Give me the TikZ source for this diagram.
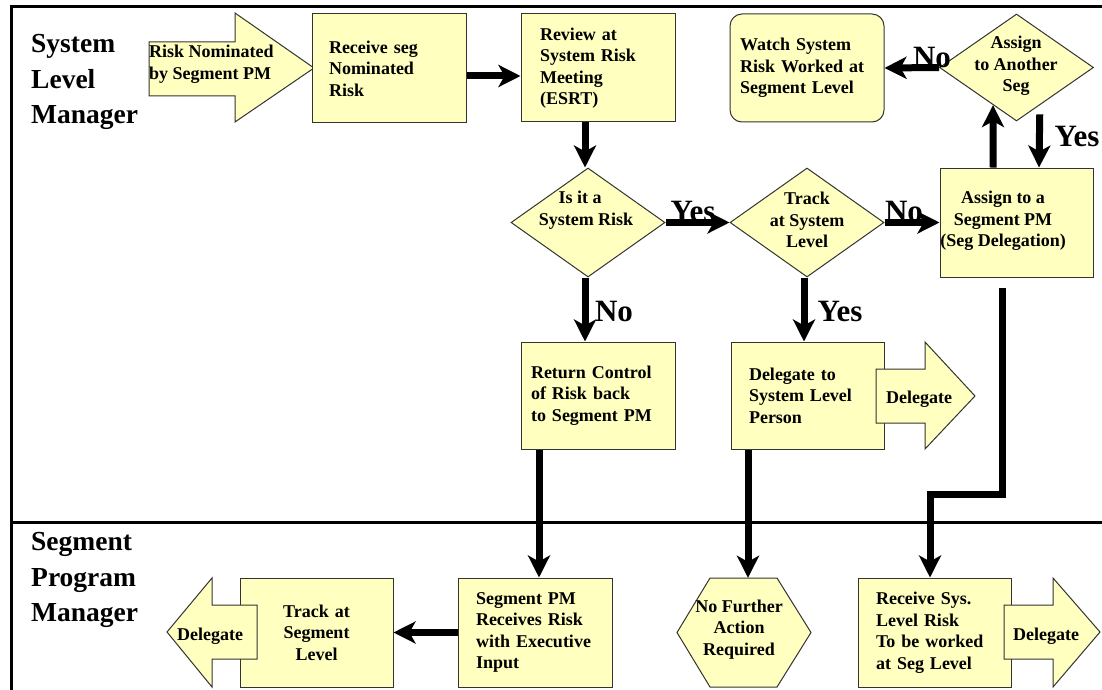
\documentclass[tikz,border=0pt]{standalone}
\usepackage{fontspec}
\setmainfont{Liberation Serif}
\usetikzlibrary{shapes.geometric,arrows.meta,calc}
\definecolor{yel}{HTML}{FFFFC0}
\definecolor{edge}{HTML}{333333}
\newcommand\boxfont{\fontsize{18}{21.5}\selectfont\bfseries}
\newcommand\lblfont{\fontsize{31}{32}\selectfont\bfseries}
\newcommand\lanefont{\fontsize{27.5}{35.5}\selectfont\bfseries}
\tikzset{
  box/.style={draw=edge, line width=1pt, fill=yel, font=\boxfont, align=left, inner ysep=0pt, minimum height=109pt},
  dia/.style={diamond, draw=edge, line width=1pt, fill=yel, inner sep=0pt, minimum width=154pt, minimum height=109pt},
  blockarrow/.style={draw=edge, line width=1pt, fill=yel, line join=miter},
  txt/.style={font=\boxfont, align=center, inner sep=0pt},
  lbl/.style={font=\lblfont, inner sep=0pt},
  lane/.style={font=\lanefont, align=left, inner sep=0pt, anchor=west},
  conn/.style={line width=7pt, -{Stealth[length=22pt, width=22pt, inset=6pt]}},
  frame/.style={line width=3pt}
}
\begin{document}
\begin{tikzpicture}[x=1pt,y=-1pt]
\useasboundingbox (0,0) rectangle (1102,690);
\fill[white] (0,0) rectangle (1102,690);
% frame and lane divider
\draw[frame] (1102,7) -- (11,7) -- (11,690);
\draw[frame] (11,522) -- (1102,522);
% lane titles
\node[lane] (lane1) at (31,82) {System\\Level\\Manager};
\node[lane] (lane2) at (31,580) {Segment\\Program\\Manager};

% top row
\draw[blockarrow] (149,42) -- (235,42) -- (235,13) -- (314,68) -- (235,122) -- (235,96) -- (149,96) -- cycle;
\node[txt, align=left, anchor=west] (nom) at (149,64) {Risk Nominated\\by Segment PM};
\node[box, text width=120pt, inner xsep=17pt] (b2) at (389,68.5) {Receive seg\\Nominated\\Risk};
\node[box, text width=116pt, inner xsep=19pt, minimum height=108pt] (b3) at (598,68) {Review at\\System Risk\\Meeting\\(ESRT)};
\node[box, text width=134pt, inner xsep=10pt, minimum height=108pt, rounded corners=12pt] (watch) at (807,68) {Watch System\\Risk Worked at\\Segment Level};
\node[dia, minimum height=107pt] (ad) at (1016.5,67.5) {};
\node[txt] (adt) at (1016,66) {Assign\\to Another\\Seg};

% middle row
\node[dia] (d1) at (588,222.5) {};
\node[txt] (d1t) at (586,210) {\hspace*{-12pt}Is it a\\System Risk};
\node[dia] (d2) at (807,222.5) {};
\node[txt] (d2t) at (807,220) {Track\\at System\\Level};
\node[box, minimum width=153pt] (ab) at (1016.5,222.5) {};
\node[txt] (abt) at (1003,221) {Assign to a\\Segment PM\\(Seg Delegation)};

\node[box, text width=134pt, inner xsep=10pt, minimum height=107pt] (rb) at (598,395.5) {Return Control\\of Risk back\\to Segment PM};
\node[box, text width=117pt, inner xsep=18pt, minimum height=107pt] (db) at (807.5,395.5) {Delegate to\\System Level\\Person};
\draw[blockarrow] (876,369) -- (925,369) -- (925,342) -- (975,396) -- (925,449) -- (925,423) -- (876,423) -- cycle;
\node[txt] (dbd) at (919,399) {Delegate};

% bottom row
\node[box, text width=143pt, inner xsep=5pt, align=center] (tr) at (316.5,632.5) {Track at\\Segment\\Level};
\draw[blockarrow] (257,605) -- (212,605) -- (212,578) -- (167,632) -- (212,687) -- (212,659) -- (257,659) -- cycle;
\node[txt] (trd) at (210,636) {Delegate};
\node[box, text width=118pt, inner xsep=18pt] (sp) at (535,632.5) {Segment PM\\Receives Risk\\with Executive\\Input};
\draw[draw=edge, line width=1pt, fill=yel] (677,632.5) -- (710,578) -- (777,578) -- (811,632.5) -- (777,687) -- (710,687) -- cycle;
\node[txt, minimum height=109pt] (hex) at (744,632.5) {};
\node[txt] (hext) at (739,629.5) {No Further\\Action\\Required};
\node[box, text width=117pt, inner xsep=18pt] (rs) at (934.5,632.5) {Receive Sys.\\Level Risk\\To be worked\\at Seg Level};
\draw[blockarrow] (1004,605) -- (1053,605) -- (1053,578) -- (1100,632) -- (1053,687) -- (1053,659) -- (1004,659) -- cycle;
\node[txt] (rsd) at (1046,636) {Delegate};

% connectors
\draw[conn] (b2.east |- 0,76) -- (b3.west |- 0,76);
\draw[conn] (b3.south -| 585,0) -- (d1.north -| 585,0);
\draw[conn] (d1.east) -- (d2.west);
\draw[conn] (d2.east) -- (ab.west);
\draw[conn] (ab.north -| 993,0) -- ($(ad.west)!0.697!(ad.south)$);
\draw[conn] ($(ad.south)!0.3!(ad.east)+(0,9)$) -- (ab.north -| 1039,0);
\draw[conn] (ad.west) -- (watch.east);
\draw[conn] (d1.south -| 585,0) -- (rb.north -| 585,0);
\draw[conn] (d2.south -| 804,0) -- (db.north -| 804,0);
\draw[conn] (rb.south -| 539,0) -- (sp.north -| 539,0);
\draw[conn] (db.south -| 748,0) -- (hex.north -| 748,0);
\draw[conn] (sp.west) -- (tr.east);
\draw[conn] ([yshift=-10pt]ab.south -| 1002,0) -- (1002,494) -- (930,494) -- (rs.north -| 930,0);

% branch labels
\node[lbl] (lno1) at (932,58) {No};
\node[lbl] (lyes1) at (1077,137) {Yes};
\node[lbl] (lyes2) at (693,212) {Yes};
\node[lbl] (lno2) at (904,212) {No};
\node[lbl] (lno3) at (614,311) {No};
\node[lbl] (lyes3) at (840,311) {Yes};
\end{tikzpicture}
\end{document}
